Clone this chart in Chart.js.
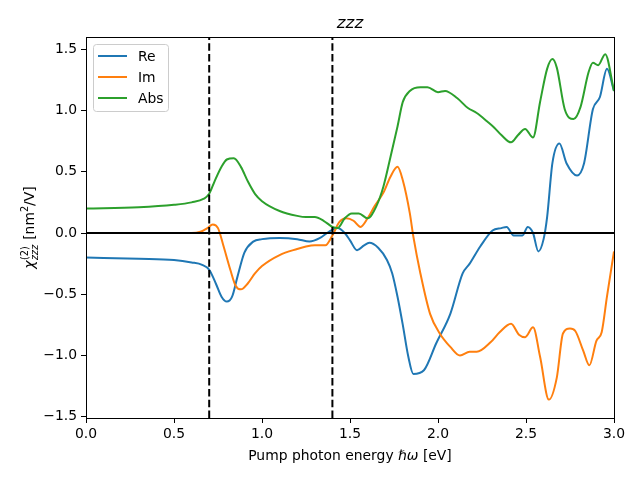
<!DOCTYPE html>
<html>
<head>
<meta charset="utf-8">
<script src="https://cdn.jsdelivr.net/npm/chart.js@4"></script>
<style>
  html, body { margin: 0; padding: 0; background: #fff; }
  #wrap { width: 640px; height: 480px; }
</style>
</head>
<body>
<div id="wrap"><canvas id="myChart" width="640" height="480"></canvas></div>
<script>
/* globals Chart:false */
"use strict";

// Re
const energyRe = [0, 0.3, 0.5, 0.6, 0.66, 0.7, 0.74, 0.77, 0.8, 0.83, 0.86, 0.9, 0.95, 1.0, 1.1, 1.2, 1.27, 1.33, 1.38, 1.43, 1.47, 1.5, 1.54, 1.58, 1.61, 1.66, 1.71, 1.74, 1.77, 1.8, 1.83, 1.86, 1.92, 1.99, 2.07, 2.14, 2.18, 2.24, 2.31, 2.36, 2.39, 2.43, 2.48, 2.51, 2.54, 2.57, 2.6, 2.62, 2.65, 2.69, 2.73, 2.79, 2.83, 2.88, 2.92, 2.96, 3.0];
const valuesRe = [-0.2, -0.21, -0.22, -0.24, -0.26, -0.3, -0.42, -0.52, -0.56, -0.52, -0.36, -0.16, -0.07, -0.05, -0.04, -0.05, -0.07, -0.04, 0.01, 0.04, 0.0, -0.06, -0.14, -0.1, -0.08, -0.12, -0.22, -0.33, -0.52, -0.75, -1.0, -1.15, -1.12, -0.9, -0.66, -0.33, -0.25, -0.11, 0.02, 0.04, 0.05, -0.02, -0.02, 0.05, 0.0, -0.15, -0.05, 0.13, 0.57, 0.73, 0.57, 0.47, 0.57, 1.01, 1.11, 1.34, 1.16];

// Im
const energyIm = [0, 0.5, 0.6, 0.65, 0.69, 0.72, 0.75, 0.78, 0.82, 0.85, 0.88, 0.92, 0.96, 1.0, 1.1, 1.2, 1.25, 1.3, 1.36, 1.4, 1.44, 1.48, 1.52, 1.56, 1.6, 1.64, 1.69, 1.73, 1.77, 1.8, 1.84, 1.86, 1.9, 1.955, 2.01, 2.07, 2.125, 2.18, 2.22, 2.3, 2.35, 2.415, 2.46, 2.495, 2.54, 2.58, 2.63, 2.675, 2.71, 2.75, 2.78, 2.825, 2.86, 2.9, 2.93, 2.96, 3.0];
const valuesIm = [0, 0, 0, 0.01, 0.04, 0.07, 0.04, -0.1, -0.3, -0.43, -0.46, -0.41, -0.33, -0.27, -0.18, -0.13, -0.11, -0.1, -0.1, -0.02, 0.09, 0.12, 0.1, 0.05, 0.12, 0.22, 0.33, 0.46, 0.54, 0.43, 0.16, -0.03, -0.33, -0.66, -0.82, -0.93, -1.0, -0.97, -0.97, -0.89, -0.81, -0.74, -0.83, -0.85, -0.77, -1.01, -1.36, -1.18, -0.82, -0.78, -0.8, -0.96, -1.08, -0.88, -0.81, -0.52, -0.15];

// Abs
const energyAbs = [0, 0.3, 0.5, 0.6, 0.67, 0.7, 0.73, 0.77, 0.8, 0.84, 0.88, 0.92, 0.96, 1.0, 1.1, 1.2, 1.25, 1.3, 1.35, 1.4, 1.43, 1.47, 1.51, 1.55, 1.6, 1.65, 1.69, 1.73, 1.77, 1.8, 1.84, 1.9, 1.94, 2.0, 2.04, 2.11, 2.17, 2.22, 2.28, 2.32, 2.36, 2.415, 2.455, 2.495, 2.54, 2.58, 2.62, 2.65, 2.675, 2.72, 2.77, 2.81, 2.855, 2.88, 2.91, 2.95, 3.0];
const valuesAbs = [0.2, 0.21, 0.23, 0.25, 0.28, 0.32, 0.42, 0.54, 0.6, 0.61, 0.54, 0.42, 0.32, 0.26, 0.18, 0.14, 0.13, 0.13, 0.1, 0.05, 0.04, 0.12, 0.16, 0.16, 0.12, 0.22, 0.38, 0.62, 0.87, 1.07, 1.16, 1.19, 1.19, 1.15, 1.16, 1.1, 1.02, 0.98, 0.91, 0.86, 0.8, 0.74, 0.8, 0.85, 0.78, 1.07, 1.34, 1.42, 1.35, 1.01, 0.93, 1.03, 1.31, 1.39, 1.37, 1.46, 1.16];

const seriesNames = ["Re", "Im", "Abs"];
const seriesColors = ["#1f77b4", "#ff7f0e", "#2ca02c"];
const markerEnergies = [0.7, 1.4];
const xTicks = [0, 0.5, 1.0, 1.5, 2.0, 2.5, 3.0];
const yTicks = [-1.5, -1.0, -0.5, 0.0, 0.5, 1.0, 1.5];
const xRange = [0, 3.0];
const yRange = [-1.51, 1.6];

const FONT = "'DejaVu Sans', sans-serif";

function pairs(xs, ys) {
  return xs.map((x, i) => ({ x: x, y: ys[i] }));
}

function fmt(v) {
  return v.toFixed(1).replace("-", "\u2212");
}

const curves = [
  pairs(energyRe, valuesRe),
  pairs(energyIm, valuesIm),
  pairs(energyAbs, valuesAbs),
];

const datasets = curves.map((d, i) => ({
  label: seriesNames[i],
  data: d,
  borderColor: seriesColors[i],
  borderWidth: 2,
  pointRadius: 0,
  cubicInterpolationMode: "monotone",
  fill: false,
  order: 3 - i,
}));

datasets.push({
  label: "_zero",
  data: pairs(xRange, [0, 0]),
  borderColor: "#000",
  borderWidth: 2,
  pointRadius: 0,
  order: 0,
});
markerEnergies.forEach((e) => {
  datasets.push({
    label: "_marker",
    data: pairs([e, e], yRange),
    borderColor: "#000",
    borderWidth: 2,
    borderDash: [7.5, 3.3],
    pointRadius: 0,
    order: 0,
  });
});

// frame, title, axis labels and legend drawn like matplotlib
const decor = {
  id: "decor",
  afterDraw(chart) {
    const c = chart.ctx;
    const a = chart.chartArea;
    c.save();
    c.strokeStyle = "#000";
    c.lineWidth = 1;
    c.strokeRect(a.left + 0.5, a.top + 0.5, a.right - a.left, a.bottom - a.top);

    c.fillStyle = "#000";
    c.textBaseline = "alphabetic";
    // title
    c.font = "italic 16.7px " + FONT;
    c.textAlign = "center";
    c.fillText("zzz", (a.left + a.right) / 2, a.top - 9);

    // x label
    const xl = [
      { t: "Pump photon energy ", f: "13.9px " + FONT },
      { t: "\u210F\u03C9", f: "italic 13.9px " + FONT },
      { t: " [eV]", f: "13.9px " + FONT },
    ];
    c.textAlign = "left";
    let w = 0;
    xl.forEach((p) => { c.font = p.f; p.w = c.measureText(p.t).width; w += p.w; });
    let x = (a.left + a.right) / 2 - w / 2;
    xl.forEach((p) => { c.font = p.f; c.fillText(p.t, x, 460); x += p.w; });

    // y label
    c.translate(34, (a.top + a.bottom) / 2);
    c.rotate(-Math.PI / 2);
    const big = "13.9px " + FONT;
    const bigI = "italic 13.9px " + FONT;
    const sm = "9.7px " + FONT;
    const smI = "italic 9.7px " + FONT;
    c.font = bigI; const wChi = c.measureText("\u03C7").width;
    c.font = sm; const wSup = c.measureText("(2)").width;
    c.font = smI; const wSub = c.measureText("zzz").width;
    const wScript = Math.max(wSup, wSub) + 1;
    c.font = big; const wA = c.measureText(" [nm").width;
    c.font = sm; const w2 = c.measureText("2").width;
    c.font = big; const wB = c.measureText("/V]").width;
    const total = wChi + wScript + wA + w2 + wB;
    x = -total / 2;
    c.font = bigI; c.fillText("\u03C7", x, 0); x += wChi;
    c.font = sm; c.fillText("(2)", x + 0.5, -6);
    c.font = smI; c.fillText("zzz", x + 0.5, 4);
    x += wScript;
    c.font = big; c.fillText(" [nm", x, 0); x += wA;
    c.font = sm; c.fillText("2", x, -6); x += w2;
    c.font = big; c.fillText("/V]", x, 0);
    c.setTransform(1, 0, 0, 1, 0, 0);

    // legend
    const lx = a.left + 7, ly = a.top + 7, lw = 75, lh = 67;
    c.beginPath();
    c.roundRect(lx + 0.5, ly + 0.5, lw, lh, 3);
    c.fillStyle = "rgba(255,255,255,0.8)";
    c.fill();
    c.strokeStyle = "#cccccc";
    c.lineWidth = 1;
    c.stroke();
    c.font = "13.9px " + FONT;
    c.textBaseline = "middle";
    seriesNames.forEach((n, i) => {
      const yy = ly + 12 + i * 21;
      c.strokeStyle = seriesColors[i];
      c.lineWidth = 2;
      c.beginPath();
      c.moveTo(lx + 5, yy);
      c.lineTo(lx + 34, yy);
      c.stroke();
      c.fillStyle = "#000";
      c.fillText(n, lx + 45, yy + 1);
    });
    c.restore();
  },
};

const ctx = document.getElementById("myChart");
// eslint-disable-next-line no-unused-vars
const myChart = new Chart(ctx, {
  type: "line",
  data: { datasets: datasets },
  options: {
    responsive: false,
    animation: false,
    layout: { padding: { top: 37, right: 26, left: 0, bottom: 0 } },
    plugins: {
      legend: { display: false },
      tooltip: { enabled: false },
      title: { display: false },
    },
    scales: {
      x: {
        type: "linear",
        min: xRange[0],
        max: xRange[1],
        afterFit: (s) => { s.height = 62; },
        afterBuildTicks: (s) => { s.ticks = xTicks.map((v) => ({ value: v })); },
        border: { display: false },
        grid: { drawOnChartArea: false, drawTicks: true, tickLength: 5, color: "#000" },
        ticks: {
          color: "#000",
          padding: 3,
          maxRotation: 0,
          font: { family: FONT, size: 13.9 },
          callback: (v) => fmt(v),
        },
      },
      y: {
        type: "linear",
        min: yRange[0],
        max: yRange[1],
        afterFit: (s) => { s.width = 86; },
        afterBuildTicks: (s) => { s.ticks = yTicks.map((v) => ({ value: v })); },
        border: { display: false },
        grid: { drawOnChartArea: false, drawTicks: true, tickLength: 5, color: "#000" },
        ticks: {
          color: "#000",
          padding: 4,
          font: { family: FONT, size: 13.9 },
          callback: (v) => fmt(v),
        },
      },
    },
  },
  plugins: [decor],
});
</script>
</body>
</html>
